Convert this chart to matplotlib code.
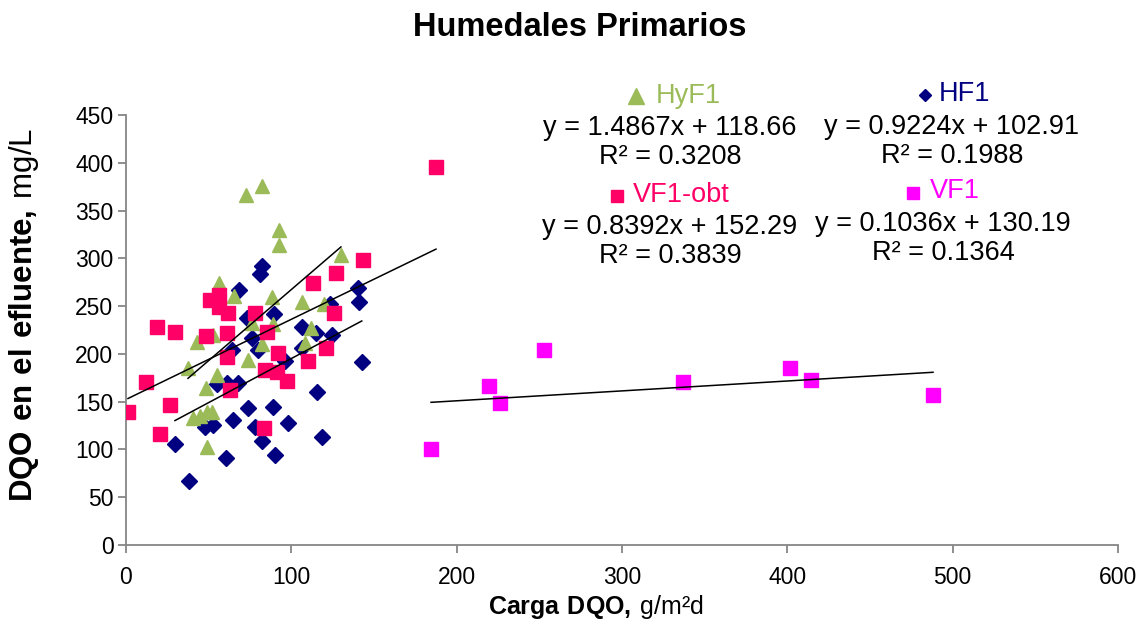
import matplotlib
matplotlib.use("Agg")
import matplotlib.pyplot as plt
from matplotlib.lines import Line2D
import numpy as np

plt.rcParams['font.family'] = ['Liberation Sans', 'DejaVu Sans']
plt.rcParams['mathtext.fontset'] = 'custom'
plt.rcParams['mathtext.rm'] = 'Liberation Sans'
plt.rcParams['mathtext.bf'] = 'Liberation Sans:bold'

# ---- data ----
hf1_x = [68.5, 73.2, 82.1, 81.0, 140.5, 141.1, 123.4, 89.7, 106.3, 114.9, 124.6, 63.9,
         54.9, 60.9, 67.9, 76.0, 80.0, 106.3, 142.6, 96.2, 115.3, 74.0, 89.1, 64.9,
         52.8, 47.8, 29.6, 60.5, 38.1, 78.0, 97.8, 82.1, 118.4, 90.1]
hf1_y = [266.8, 237.5, 292.0, 283.6, 268.6, 254.6, 252.2, 241.4, 227.8, 221.9, 219.8, 204.0,
         168.0, 169.2, 169.2, 216.6, 204.0, 206.0, 191.2, 193.0, 160.4, 143.0, 144.0, 130.8,
         125.6, 123.2, 105.4, 90.7, 67.3, 123.2, 127.4, 109.1, 113.3, 94.2]

hyf1_x = [72.6, 82.3, 92.5, 92.5, 130.0, 56.3, 65.3, 88.3, 106.5, 119.8, 76.2, 88.9, 111.9,
          82.3, 108.3, 73.8, 42.9, 52.6, 37.5, 55.0, 48.4, 40.5, 44.8, 49.0, 52.0, 49.0]
hyf1_y = [366, 376, 330, 314, 303, 274, 261, 260, 254, 252, 232, 231, 227,
          210, 211, 194, 212, 220, 185, 178, 164, 133, 135, 139, 139, 103]

vf1obt_x = [1.2, 12.1, 18.6, 29.6, 26.6, 20.6, 48.4, 60.9, 60.9, 62.9, 50.8, 56.3, 56.3, 61.7,
            77.8, 85.1, 92.1, 84.1, 91.2, 97.2, 110.3, 120.8, 125.8, 112.9, 127.0, 143.2,
            187.5, 83.3]
vf1obt_y = [139.5, 170.9, 228.4, 223.2, 146.5, 116.2, 218.7, 222.2, 197.0, 162.2, 256.4, 261.6,
            249.0, 242.8, 243.1, 222.4, 200.6, 183.1, 181.4, 171.9, 192.5, 205.8, 243.1, 274.5,
            285.0, 298.2, 395.6, 122.1]

vf1_x = [184.5, 219.6, 226.2, 252.8, 336.9, 401.6, 414.3, 488.1]
vf1_y = [100.5, 166.4, 148.6, 204.0, 170.6, 185.2, 172.7, 157.0]

# trend line coefficients (slope, intercept, R²)
trend_hyf1 = (1.4867, 118.66, 0.3208)
trend_hf1 = (0.9224, 102.91, 0.1988)
trend_vf1obt = (0.8392, 152.29, 0.3839)
trend_vf1 = (0.1036, 130.19, 0.1364)

x_ticks = [0, 100, 200, 300, 400, 500, 600]
y_ticks = [0, 50, 100, 150, 200, 250, 300, 350, 400, 450]

C_HY = '#9BBB59'
C_HF = '#000080'
C_VO = '#FF0066'
C_VF = '#FF00FF'

W, H = 1145, 625
fig = plt.figure(figsize=(W / 100, H / 100), dpi=100)
ax = fig.add_axes([126 / W, 1 - 545 / H, (1118 - 126) / W, (545 - 115) / H])

ax.plot(hf1_x, hf1_y, linestyle='none', marker='D', ms=8.6, color=C_HF, mec=C_HF, zorder=2)
ax.plot(hyf1_x, hyf1_y, linestyle='none', marker='^', ms=10, color=C_HY, mec=C_HY, zorder=3)
ax.plot(vf1obt_x, vf1obt_y, linestyle='none', marker='s', ms=10, color=C_VO, mec=C_VO, zorder=4)
ax.plot(vf1_x, vf1_y, linestyle='none', marker='s', ms=9.5, color=C_VF, mec=C_VF, zorder=4)

for xs, (m, b, r2) in [(hyf1_x, trend_hyf1), (hf1_x, trend_hf1),
                       (vf1obt_x, trend_vf1obt), (vf1_x, trend_vf1)]:
    xx = np.array([min(xs), max(xs)])
    ax.plot(xx, m * xx + b, color='black', lw=1.1, zorder=5)

ax.set_xlim(0, 600)
ax.set_ylim(0, 450)
ax.set_xticks(x_ticks)
ax.set_yticks(y_ticks)
ax.set_xticklabels([str(t) for t in x_ticks])
ax.set_yticklabels([str(t) for t in y_ticks])
for s in ['top', 'right']:
    ax.spines[s].set_visible(False)
for s in ['left', 'bottom']:
    ax.spines[s].set_color('#868686')
    ax.spines[s].set_linewidth(1.3)
ax.tick_params(axis='both', direction='out', length=6, width=1.3, color='#868686',
               labelsize=16.5, labelcolor='black')
ax.tick_params(axis='y', pad=3)
ax.tick_params(axis='x', pad=9)

fig.text(596 / W, 1 - 607 / H, r'$\mathbf{Carga\ DQO,}\,$g/m²d', fontsize=18,
         ha='center', va='center')
fig.text(24 / W, 1 - 315 / H, r'$\mathbf{DQO\ en\ el\ efluente,}\,$mg/L', fontsize=22.5,
         ha='center', va='center', rotation=90)

fig.text(579.5 / W, 1 - 28 / H, 'Humedales Primarios', fontsize=23.5, fontweight='bold',
         ha='center', va='center')

def fx(px):
    return px / W

def fy(py):
    return 1 - py / H

def legend_entry(mx, my, marker, ms, color, label, tx, ty):
    fig.add_artist(Line2D([fx(mx)], [fy(my)], marker=marker, ms=ms, color=color,
                          mec=color, linestyle='none', transform=fig.transFigure))
    fig.text(fx(tx), fy(ty), label, fontsize=19.5, color=color, ha='left', va='center')

def eq_block(cx, y1, y2, m, b, r2):
    fig.text(fx(cx), fy(y1), f'y = {m:.4f}x + {b:.2f}', fontsize=19.5, ha='center', va='center')
    fig.text(fx(cx), fy(y2), f'R² = {r2:.4f}', fontsize=19.5, ha='center', va='center')

legend_entry(636, 96, '^', 12, C_HY, 'HyF1', 656, 96)
eq_block(670, 128, 157, *trend_hyf1)
legend_entry(617, 196, 's', 8, C_VO, 'VF1-obt', 633, 195)
eq_block(670, 227, 256, *trend_vf1obt)
legend_entry(925, 95, 'D', 6, C_HF, 'HF1', 939, 94)
eq_block(952, 127, 156, *trend_hf1)
legend_entry(913, 193, 's', 8, C_VF, 'VF1', 930, 191)
eq_block(943, 224, 253, *trend_vf1)

fig.savefig('out.png', dpi=100)
